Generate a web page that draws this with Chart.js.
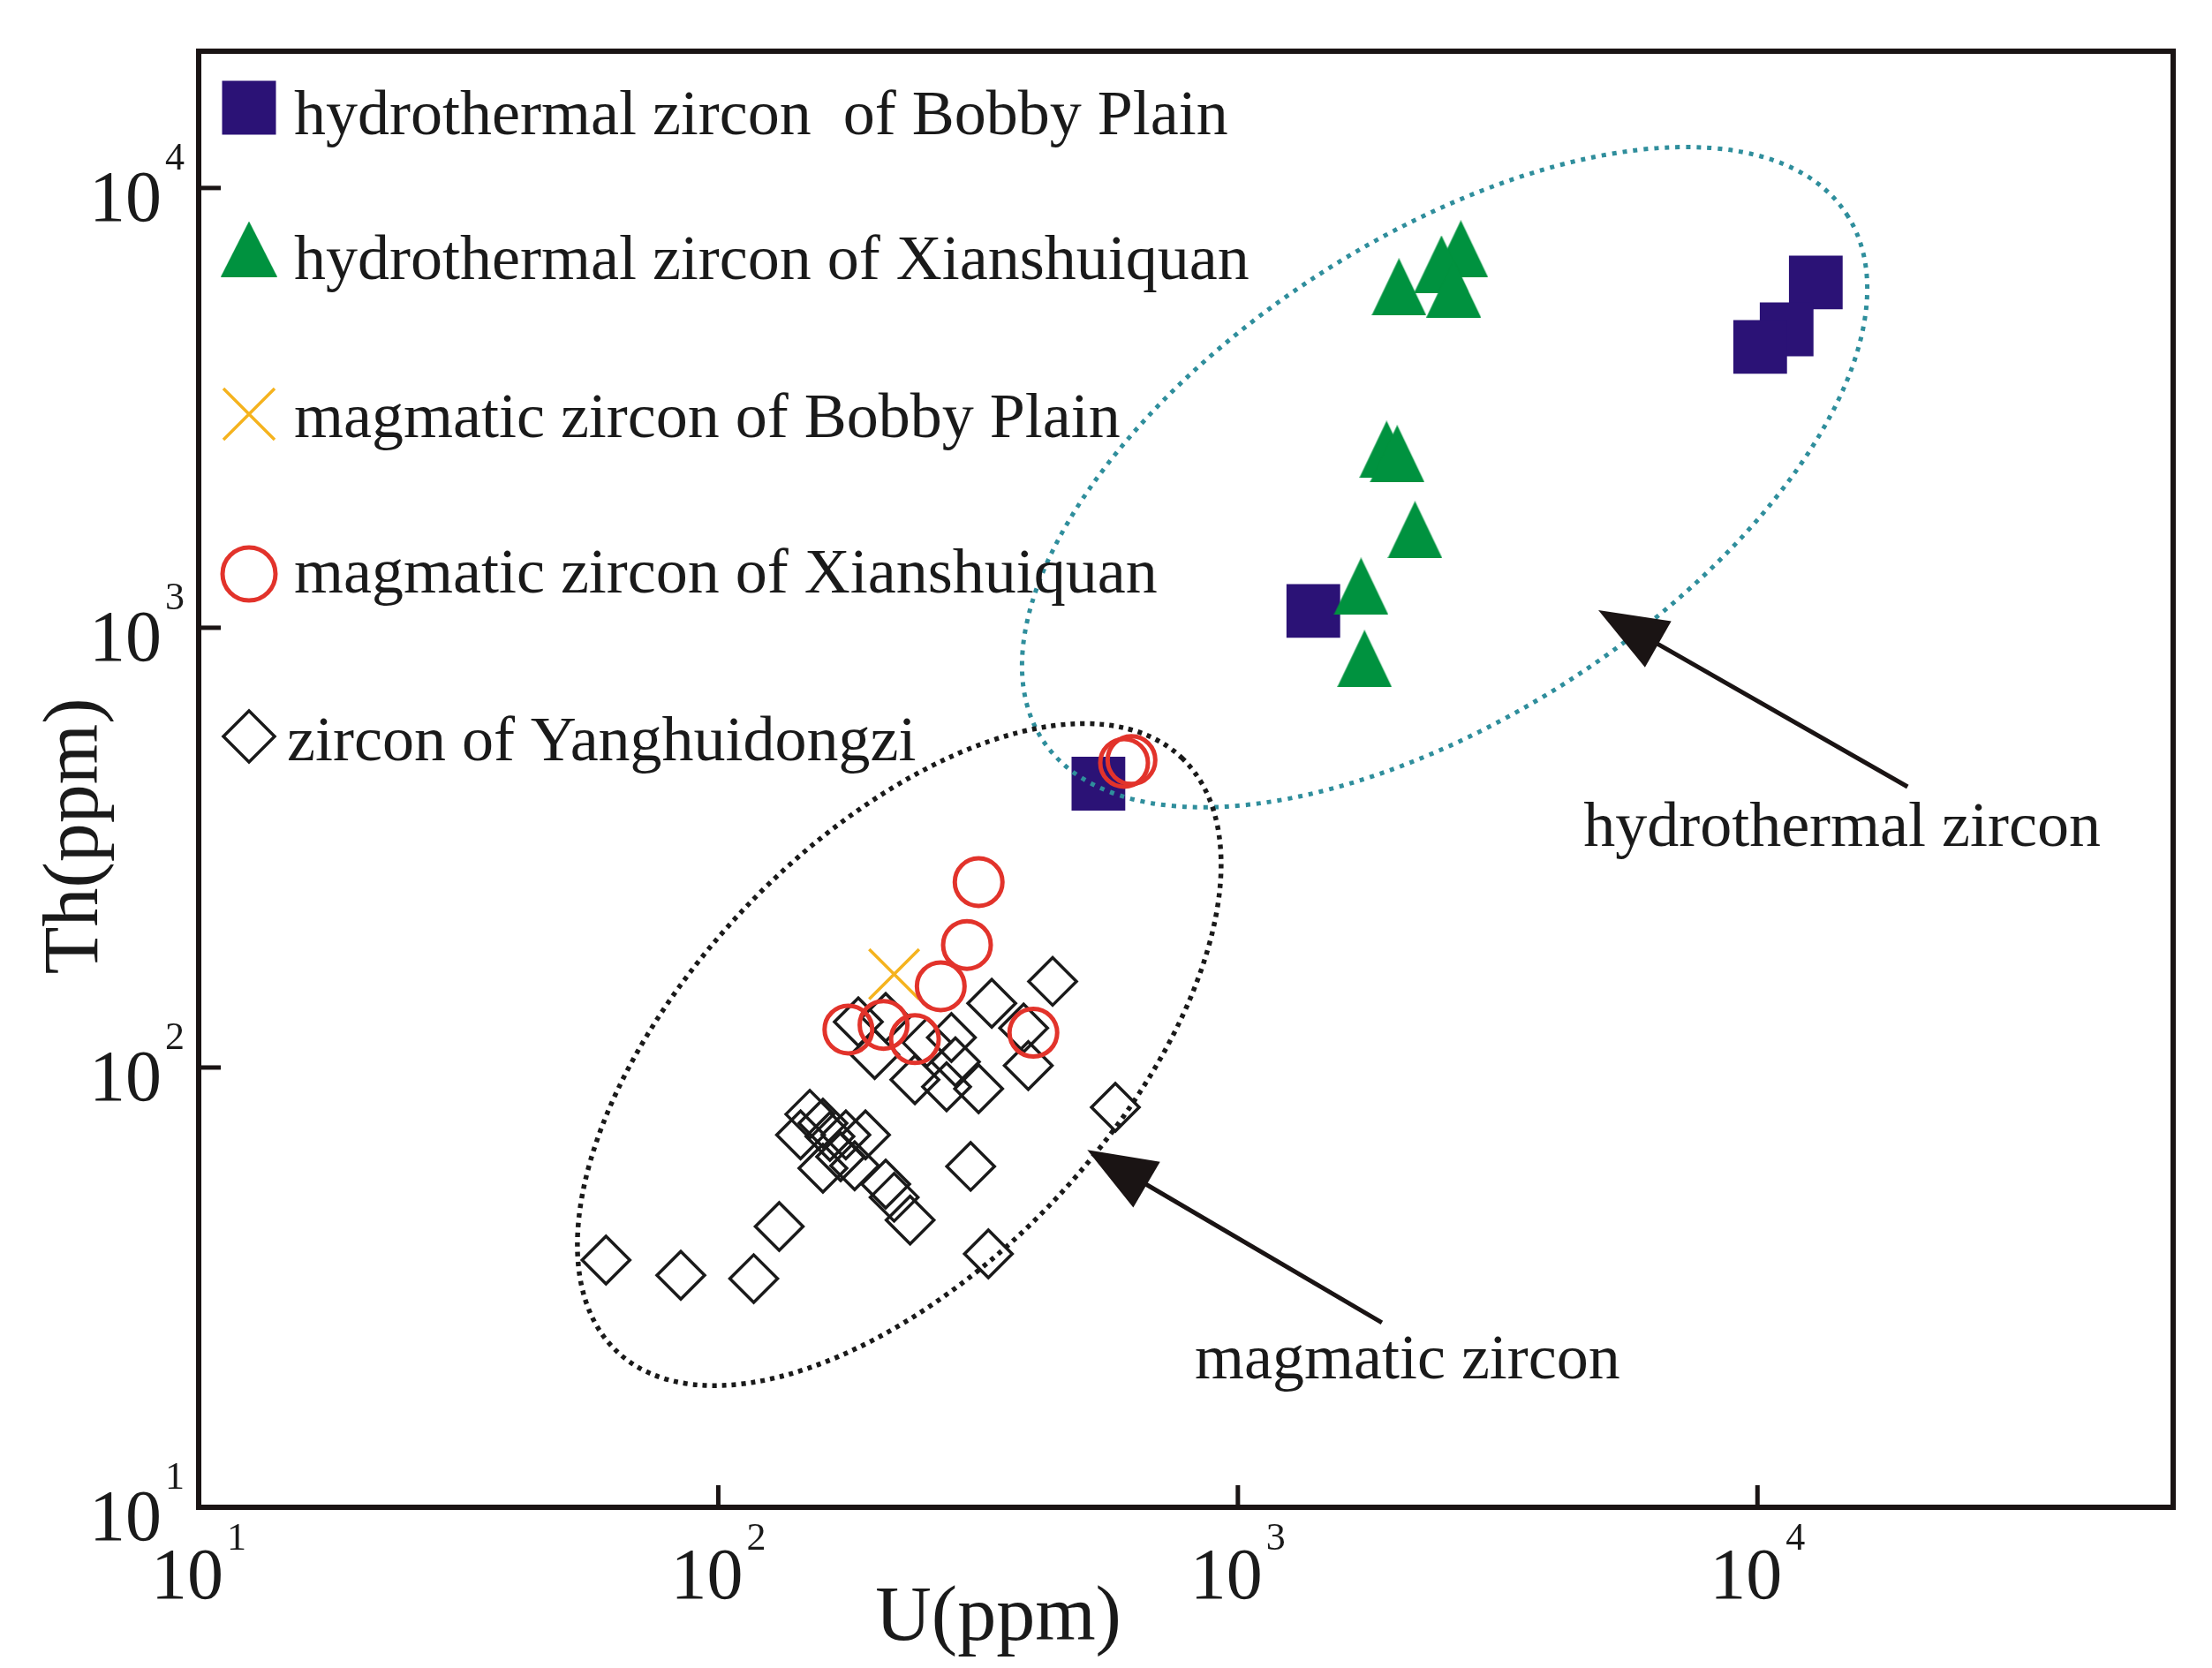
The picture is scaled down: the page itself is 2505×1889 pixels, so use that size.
<!DOCTYPE html>
<html><head><meta charset="utf-8">
<style>html,body{margin:0;padding:0;background:#fff;}canvas{display:block;}</style>
<script src="https://cdn.jsdelivr.net/npm/chart.js@4.4.0/dist/chart.umd.min.js"></script>
</head><body>
<canvas id="c" width="2505" height="1889"></canvas>
<script>
// ---------- data (U ppm, Th ppm) ----------
const hydroBobbyU  = [12950, 11380, 10120, 1397, 539];
const hydroBobbyTh = [6100, 4770, 4350, 1092, 442];
const hydroXianU   = [2042, 2686, 2465, 2602, 1933, 2026, 2192, 1726, 1753];
const hydroXianTh  = [5960, 7270, 6715, 5900, 2545, 2487, 1671, 1243, 851];
const magBobbyU    = [218];
const magBobbyTh   = [163];
const magXianU     = [317, 301, 268, 178, 208, 239, 404, 604, 624];
const magXianTh    = [264, 190, 153, 122, 125, 116, 120, 493, 500];
const yangU  = [60.8, 84.7, 117, 131, 331, 306, 581, 440, 336, 387, 395, 317, 275, 239, 200, 186, 210, 281, 252, 286, 150, 159, 164, 176, 192, 159, 172, 183, 210, 218, 234, 144];
const yangTh = [36.5, 33.7, 33.1, 43.5, 37.7, 59.6, 81.2, 157, 140, 123, 101, 89.5, 90.4, 93.8, 107, 127, 130, 117, 114, 103, 78.3, 74.7, 69.7, 70.3, 70.3, 59.0, 62.7, 59.8, 54.3, 50.7, 45.0, 70.3];

const seriesNames = [
  'hydrothermal zircon  of Bobby Plain',
  'hydrothermal zircon of Xianshuiquan',
  'magmatic zircon of Bobby Plain',
  'magmatic zircon of Xianshuiquan',
  'zircon of Yanghuidongzi'
];
const xTickValues = [10, 100, 1000, 10000];
const xTickExps   = ['1', '2', '3', '4'];
const yTickValues = [10, 100, 1000, 10000];
const yTickExps   = ['1', '2', '3', '4'];
const xTitle = 'U(ppm)';
const yTitle = 'Th(ppm)';
const annoHydroText = 'hydrothermal zircon';
const annoMagText = 'magmatic zircon';

// ---------- styles ----------
const C_SQ = '#2B1276', C_TRI = '#00923F', C_X = '#F5B31E', C_CIR = '#E2332B', C_DIA = '#1a1a1a', C_TEAL = '#2F8E9C';
const FONT = '"Liberation Serif", "Times New Roman", serif';

function triCanvas(w, h, color) {
  const cv = document.createElement('canvas'); cv.width = w; cv.height = h;
  const g = cv.getContext('2d'); g.fillStyle = color;
  g.beginPath(); g.moveTo(w / 2, 0); g.lineTo(w, h); g.lineTo(0, h); g.closePath(); g.fill();
  return cv;
}
const triImg = triCanvas(62, 65, C_TRI);

function pts(xs, ys) { return xs.map((x, i) => ({ x: x, y: ys[i] })); }

const datasets = [
  { label: seriesNames[0], data: pts(hydroBobbyU, hydroBobbyTh), pointStyle: 'rect', pointRadius: 43, backgroundColor: C_SQ, borderColor: C_SQ, borderWidth: 0, order: 4 },
  { label: seriesNames[1], data: pts(hydroXianU, hydroXianTh), pointStyle: triImg, pointRadius: 32, backgroundColor: C_TRI, borderColor: C_TRI, order: 3 },
  { label: seriesNames[2], data: pts(magBobbyU, magBobbyTh), pointStyle: 'crossRot', pointRadius: 40, backgroundColor: 'rgba(0,0,0,0)', borderColor: C_X, borderWidth: 3.5, order: 2 },
  { label: seriesNames[3], data: pts(magXianU, magXianTh), pointStyle: 'circle', pointRadius: 27, backgroundColor: 'rgba(0,0,0,0)', borderColor: C_CIR, borderWidth: 5, order: 1 },
  { label: seriesNames[4], data: pts(yangU, yangTh), pointStyle: 'rectRot', pointRadius: 27, backgroundColor: 'rgba(0,0,0,0)', borderColor: C_DIA, borderWidth: 3.5, order: 5 }
];

// annotation geometry (centers in data units, sizes in px)
const ellipseHydro = { u: 2500, th: 2200, a: 544, b: 270, angle: 33.2, color: C_TEAL, dash: [5, 7], lw: 5 };
const ellipseMag   = { u: 223, th: 107, a: 464, b: 241, angle: 46.4, color: '#1a1a1a', dash: [5, 6], lw: 5.5 };
const arrowHydro = { from: [19450, 435], to: [4940, 1097] };
const arrowMag   = { from: [1893, 26.3], to: [513, 65.0] };
const textHydroPos = [4624, 319];
const textMagPos = [826, 19.6];

function drawMarker(ctx, kind, x, y) {
  ctx.save();
  if (kind === 0) { ctx.fillStyle = C_SQ; ctx.fillRect(x - 30.5, y - 30.5, 61, 61); }
  else if (kind === 1) { ctx.drawImage(triCanvas(64, 63, C_TRI), x - 32, y - 31.5); }
  else if (kind === 2) { ctx.strokeStyle = C_X; ctx.lineWidth = 3.5; ctx.beginPath(); ctx.moveTo(x - 29, y - 29); ctx.lineTo(x + 29, y + 29); ctx.moveTo(x + 29, y - 29); ctx.lineTo(x - 29, y + 29); ctx.stroke(); }
  else if (kind === 3) { ctx.strokeStyle = C_CIR; ctx.lineWidth = 5; ctx.beginPath(); ctx.arc(x, y, 30, 0, Math.PI * 2); ctx.stroke(); }
  else { ctx.strokeStyle = C_DIA; ctx.lineWidth = 3.5; ctx.beginPath(); ctx.moveTo(x - 29, y); ctx.lineTo(x, y - 29); ctx.lineTo(x + 29, y); ctx.lineTo(x, y + 29); ctx.closePath(); ctx.stroke(); }
  ctx.restore();
}

function arrow(ctx, x1, y1, x2, y2) {
  const ang = Math.atan2(y2 - y1, x2 - x1), L = 78, W = 30;
  const bx = x2 - L * Math.cos(ang), by = y2 - L * Math.sin(ang);
  ctx.save(); ctx.strokeStyle = '#1a1414'; ctx.fillStyle = '#1a1414'; ctx.lineWidth = 5;
  ctx.beginPath(); ctx.moveTo(x1, y1); ctx.lineTo(bx + 20 * Math.cos(ang), by + 20 * Math.sin(ang)); ctx.stroke();
  ctx.beginPath(); ctx.moveTo(x2, y2);
  ctx.lineTo(bx + W * Math.sin(ang), by - W * Math.cos(ang));
  ctx.lineTo(bx - W * Math.sin(ang), by + W * Math.cos(ang));
  ctx.closePath(); ctx.fill(); ctx.restore();
}

const decor = {
  id: 'decor',
  beforeDraw(chart) {
    const ctx = chart.ctx; ctx.save(); ctx.fillStyle = '#fff'; ctx.fillRect(0, 0, chart.width, chart.height); ctx.restore();
  },
  afterDatasetsDraw(chart) {
    const ctx = chart.ctx, xs = chart.scales.x, ys = chart.scales.y, a = chart.chartArea;
    // ellipses
    [ellipseHydro, ellipseMag].forEach(e => {
      ctx.save(); ctx.beginPath();
      ctx.ellipse(xs.getPixelForValue(e.u), ys.getPixelForValue(e.th), e.a, e.b, -e.angle * Math.PI / 180, 0, Math.PI * 2);
      ctx.setLineDash(e.dash); ctx.lineWidth = e.lw; ctx.strokeStyle = e.color; ctx.stroke(); ctx.restore();
    });
    // arrows
    [arrowHydro, arrowMag].forEach(r => arrow(ctx, xs.getPixelForValue(r.from[0]), ys.getPixelForValue(r.from[1]), xs.getPixelForValue(r.to[0]), ys.getPixelForValue(r.to[1])));
    // annotation texts
    ctx.save(); ctx.fillStyle = '#1a1a1a'; ctx.font = '72px ' + FONT; ctx.textAlign = 'left'; ctx.textBaseline = 'alphabetic';
    ctx.fillText(annoHydroText, xs.getPixelForValue(textHydroPos[0]), ys.getPixelForValue(textHydroPos[1]));
    ctx.fillText(annoMagText, xs.getPixelForValue(textMagPos[0]), ys.getPixelForValue(textMagPos[1]));
    ctx.restore();
    // legend
    const rowCenter = [64, 224, 411, 592, 776];
    const rowBase = [94, 258, 437, 613, 803];
    const textX = [108, 108, 108, 108, 100];
    ctx.save(); ctx.fillStyle = '#1a1a1a'; ctx.font = '72px ' + FONT; ctx.textBaseline = 'alphabetic';
    seriesNames.forEach((n, i) => {
      drawMarker(ctx, i, a.left + 57, a.top + rowCenter[i]);
      ctx.fillText(n, a.left + textX[i], a.top + rowBase[i]);
    });
    ctx.restore();
    // frame
    ctx.save(); ctx.strokeStyle = '#1a1414'; ctx.lineWidth = 6;
    ctx.strokeRect(a.left, a.top, a.right - a.left, a.bottom - a.top);
    ctx.lineWidth = 5;
    xTickValues.forEach(v => { const px = xs.getPixelForValue(v); ctx.beginPath(); ctx.moveTo(px, a.bottom); ctx.lineTo(px, a.bottom - 25); ctx.stroke(); });
    yTickValues.forEach(v => { const py = ys.getPixelForValue(v); ctx.beginPath(); ctx.moveTo(a.left, py); ctx.lineTo(a.left + 25, py); ctx.stroke(); });
    ctx.restore();
    // tick labels
    ctx.save(); ctx.fillStyle = '#1a1a1a'; ctx.textBaseline = 'alphabetic';
    xTickValues.forEach((v, i) => {
      const px = xs.getPixelForValue(v);
      ctx.font = '82px ' + FONT; const w1 = ctx.measureText('10').width;
      ctx.font = '44px ' + FONT; const w2 = ctx.measureText(xTickExps[i]).width;
      const x0 = px - (w1 + 4 + w2) / 2;
      ctx.font = '82px ' + FONT; ctx.textAlign = 'left'; ctx.fillText('10', x0, a.bottom + 103);
      ctx.font = '44px ' + FONT; ctx.fillText(xTickExps[i], x0 + w1 + 4, a.bottom + 48);
    });
    yTickValues.forEach((v, i) => {
      const py = ys.getPixelForValue(v);
      ctx.font = '82px ' + FONT; ctx.textAlign = 'right'; ctx.fillText('10', a.left - 42, py + 37);
      ctx.font = '44px ' + FONT; ctx.textAlign = 'left'; ctx.fillText(yTickExps[i], a.left - 38, py - 21);
    });
    // axis titles
    ctx.font = '88px ' + FONT; ctx.textAlign = 'center';
    ctx.fillText(xTitle, a.left + 0.405 * (a.right - a.left), a.bottom + 150);
    ctx.translate(110, a.top + 0.539 * (a.bottom - a.top)); ctx.rotate(-Math.PI / 2);
    ctx.fillText(yTitle, 0, 0);
    ctx.restore();
  }
};

new Chart(document.getElementById('c'), {
  type: 'scatter',
  data: { datasets: datasets },
  options: {
    responsive: false, animation: false, devicePixelRatio: 1,
    layout: { padding: { left: 225, right: 44, top: 58, bottom: 182 } },
    plugins: { legend: { display: false }, tooltip: { enabled: false } },
    scales: {
      x: { type: 'logarithmic', min: 10, max: Math.pow(10, 4.8), display: false },
      y: { type: 'logarithmic', min: 10, max: Math.pow(10, 4.311), display: false }
    }
  },
  plugins: [decor]
});
</script>
</body></html>
